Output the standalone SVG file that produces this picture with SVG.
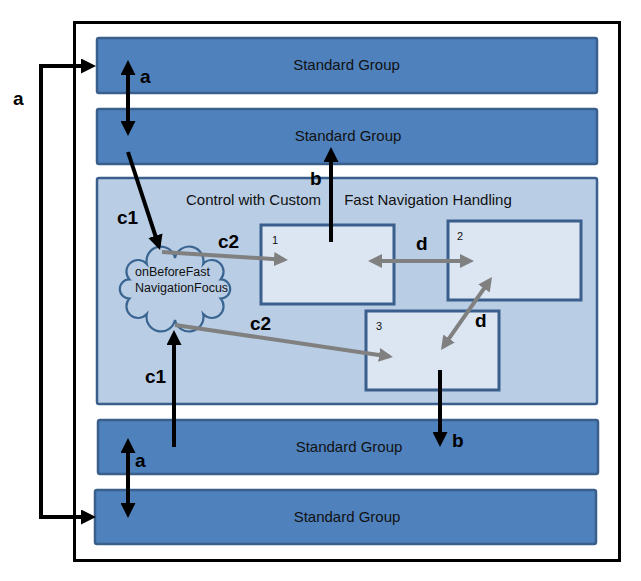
<svg xmlns="http://www.w3.org/2000/svg" width="641" height="581" viewBox="0 0 641 581">
<style>
.sg{fill:#4F81BD;stroke:#3A5F8C;stroke-width:2.5}
.ctl{fill:#B9CDE5;stroke:#3A5F8C;stroke-width:2.5}
.inner{fill:#DCE6F2;stroke:#3A5F8C;stroke-width:3}
.t{font-family:"Liberation Sans",Arial,sans-serif;font-size:15px;fill:#111;text-anchor:middle}
.ts{font-family:"Liberation Sans",Arial,sans-serif;font-size:15px;fill:#111}
.ct{font-family:"Liberation Sans",Arial,sans-serif;font-size:12.5px;fill:#111}
.num{font-family:"Liberation Sans",Arial,sans-serif;font-size:11px;fill:#111}
.lbl{font-family:"Liberation Sans",Arial,sans-serif;font-size:19px;font-weight:bold;fill:#000}
.blk{fill:none;stroke:#000;stroke-width:4;stroke-linejoin:miter}
.gry{fill:none;stroke:#808080;stroke-width:4}
</style>
<defs>
<marker id="hb" markerUnits="userSpaceOnUse" markerWidth="15" markerHeight="15" refX="11" refY="7.5" orient="auto-start-reverse" viewBox="0 0 15 15">
<path d="M0,0 L15,7.5 L0,15 z" fill="#000"/>
</marker>
<marker id="hg" markerUnits="userSpaceOnUse" markerWidth="14" markerHeight="14" refX="10" refY="7" orient="auto-start-reverse" viewBox="0 0 14 14">
<path d="M0,0 L14,7 L0,14 z" fill="#808080"/>
</marker>
</defs>
<rect x="0" y="0" width="641" height="581" fill="#fff"/>
<g id="outer">
<rect x="74.5" y="22.5" width="545" height="538" fill="#fff" stroke="#000" stroke-width="3"/>
</g>
<g id="sg1">
<rect class="sg" x="97" y="38" width="500" height="55" rx="2"/>
<text class="t" x="346.5" y="70">Standard Group</text>
</g>
<g id="sg2">
<rect class="sg" x="97" y="109" width="500" height="55" rx="2"/>
<text class="t" x="348" y="141">Standard Group</text>
</g>
<g id="control">
<rect class="ctl" x="97" y="178" width="500" height="226" rx="2"/>
<text class="ts" y="205"><tspan x="186">Control with Custom</tspan><tspan x="340"> Fast Navigation Handling</tspan></text>
</g>
<g id="box1">
<rect class="inner" x="261" y="225" width="133" height="79"/>
<text class="num" x="272" y="244">1</text>
</g>
<g id="box2">
<rect class="inner" x="448" y="221" width="133" height="79"/>
<text class="num" x="457" y="240">2</text>
</g>
<g id="box3">
<rect class="inner" x="366" y="311" width="133" height="79"/>
<text class="num" x="376" y="330">3</text>
</g>
<g id="cloud">
<path d="M220.6,298.6 A11.6,11.6 0 0 1 203.2,314.1 A14.4,14.4 0 0 1 175,320 A14.4,14.4 0 0 1 146.8,314.1 A11.6,11.6 0 0 1 129.4,298.6 A9.6,9.6 0 0 1 129.4,279.4 A11.6,11.6 0 0 1 146.8,263.9 A14.4,14.4 0 0 1 175,258 A14.4,14.4 0 0 1 203.2,263.9 A11.6,11.6 0 0 1 220.6,279.4 A9.6,9.6 0 0 1 220.6,298.6 z" fill="#B9CDE5" stroke="#3A6591" stroke-width="2.2"/>
<text class="ct" x="135" y="276">onBeforeFast</text>
<text class="ct" x="135" y="292">NavigationFocus</text>
</g>
<g id="sg3">
<rect class="sg" x="98" y="420" width="500" height="54" rx="2"/>
<text class="t" x="349" y="452">Standard Group</text>
</g>
<g id="sg4">
<rect class="sg" x="95" y="490" width="501" height="54" rx="2"/>
<text class="t" x="347" y="522">Standard Group</text>
</g>
<g id="connectors">
<path class="blk" d="M92,66 L41,66 L41,517 L92,517" marker-start="url(#hb)" marker-end="url(#hb)"/>
<path class="blk" d="M128,64 L128,132" marker-start="url(#hb)" marker-end="url(#hb)"/>
<path class="blk" d="M128,442 L128,514" marker-start="url(#hb)" marker-end="url(#hb)"/>
<path class="blk" d="M128,152 L158.8,246.2" marker-end="url(#hb)"/>
<path class="blk" d="M174,447 L174,334" marker-end="url(#hb)"/>
<path class="blk" d="M331,242 L331,151" marker-end="url(#hb)"/>
<path class="blk" d="M440,370 L440,443" marker-end="url(#hb)"/>
<path class="gry" d="M162,252 L284,259.7" marker-end="url(#hg)"/>
<path class="gry" d="M175,325 L389,356.4" marker-end="url(#hg)"/>
<path class="gry" d="M372,261 L470,261" marker-start="url(#hg)" marker-end="url(#hg)"/>
<path class="gry" d="M489.7,280.3 L443.3,346.7" marker-start="url(#hg)" marker-end="url(#hg)"/>
</g>
<g id="labels">
<text class="lbl" x="13" y="105">a</text>
<text class="lbl" x="140" y="83">a</text>
<text class="lbl" x="135" y="467">a</text>
<text class="lbl" x="310" y="185">b</text>
<text class="lbl" x="452" y="447">b</text>
<text class="lbl" x="117" y="224">c1</text>
<text class="lbl" x="145" y="383">c1</text>
<text class="lbl" x="218" y="248">c2</text>
<text class="lbl" x="250" y="330">c2</text>
<text class="lbl" x="416" y="250">d</text>
<text class="lbl" x="475" y="327">d</text>
</g>
</svg>
